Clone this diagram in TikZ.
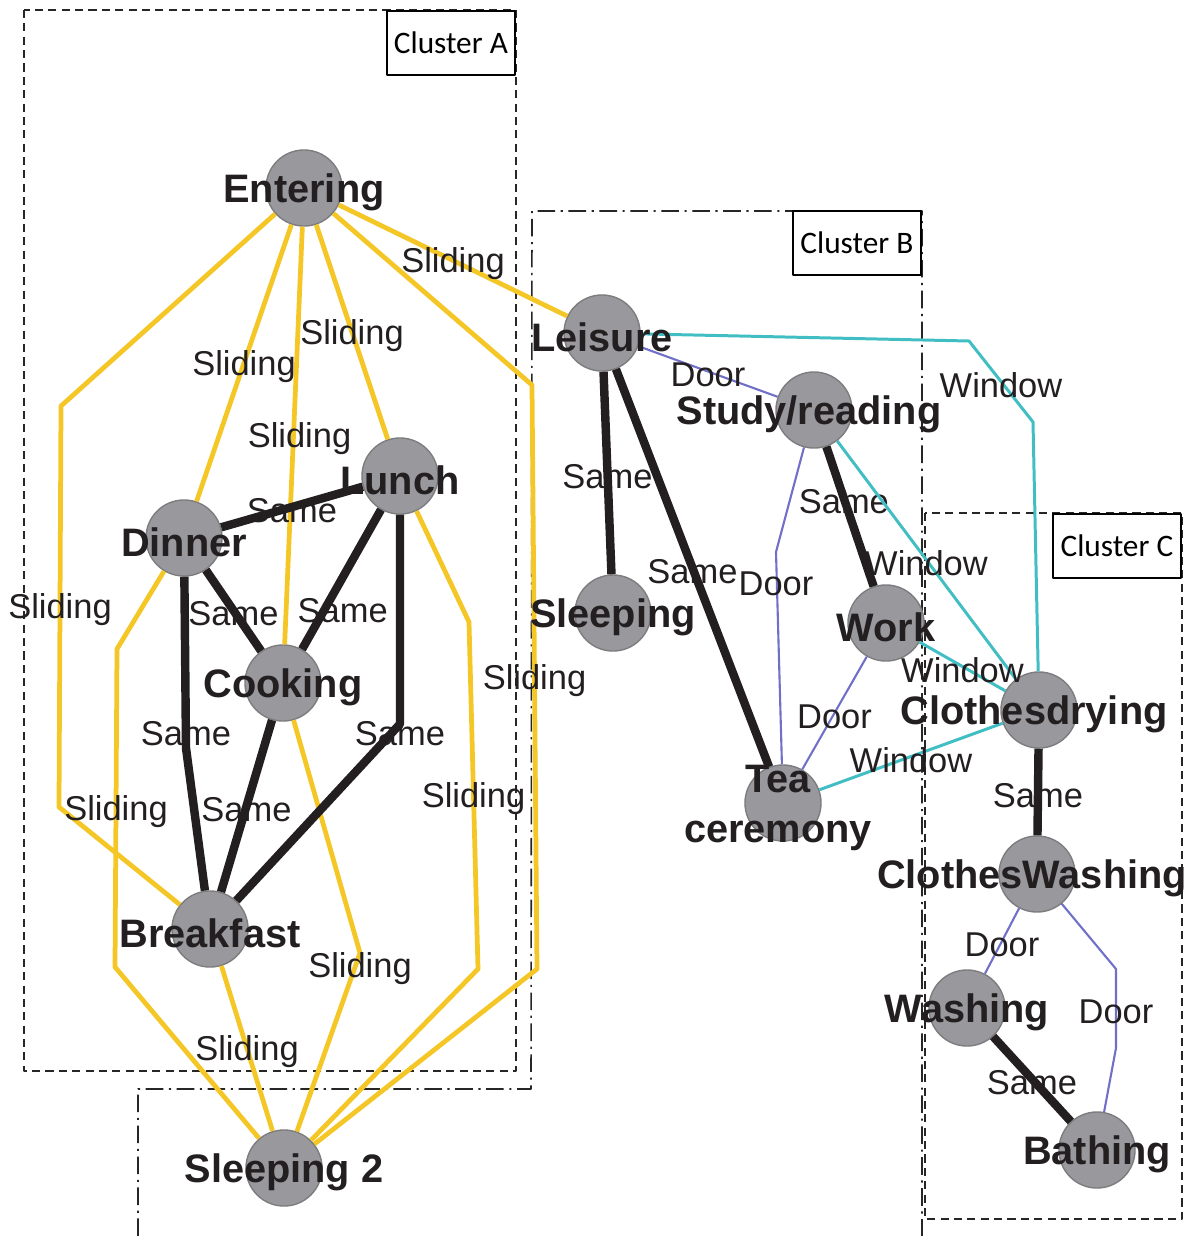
\documentclass[tikz,border=0pt]{standalone}
\usepackage{fontspec}
\setmainfont{Liberation Sans}
\newfontfamily\clusterfont{Carlito}
\usepackage{xcolor}
\usepackage{tikz}
\usetikzlibrary{arrows}
\usetikzlibrary{calc}
\usetikzlibrary{positioning}

\definecolor{ink}{RGB}{35,31,32}
\definecolor{slidecol}{RGB}{244,198,38}
\definecolor{doorcol}{RGB}{112,112,200}
\definecolor{windowcol}{RGB}{64,190,196}
\definecolor{roomfill}{RGB}{152,152,157}
\definecolor{roomline}{RGB}{125,125,128}

\begin{document}
\begin{tikzpicture}[x=0.01cm,y=-0.01cm,line join=round,
                    room/.style={circle,draw=roomline,fill=roomfill,line width=0.4pt,minimum size=0.76cm,inner sep=0pt},
                    room name/.style={font=\bfseries\fontsize{11.3}{14.2}\selectfont,text=ink,align=center,inner sep=0pt,yshift=-0.045cm},
                    link name/.style={font=\fontsize{9.8}{11}\selectfont,text=ink,inner sep=0pt,yshift=-0.035cm},
                    sliding/.style={draw=slidecol,line width=1.35pt},
                    samelink/.style={draw=ink,line width=2.4pt},
                    doorlink/.style={draw=doorcol,line width=0.6pt},
                    windowlink/.style={draw=windowcol,line width=0.85pt}]

    \tikzset{
        cluster frame/.style={draw=black!85,line width=0.45pt},
        cluster tag/.style={draw=black,fill=white,line width=0.6pt,anchor=north east,
            font=\clusterfont\fontsize{8.9}{10}\selectfont,
            minimum width=1.28cm,minimum height=0.64cm,inner sep=0pt}
    }

    \useasboundingbox (0,0) rectangle (1188,1236);

    % cluster outlines
    \draw[cluster frame,dash pattern=on 2.3pt off 1.5pt] (24,10) rectangle (516,1071);
    \draw[cluster frame,dash pattern=on 5pt off 1.6pt on 0.6pt off 1.6pt]
        (138,1236) -- (138,1089) -- (531,1089) -- (532,211) -- (922,211) -- (922,1236);
    \draw[cluster frame,dash pattern=on 2.3pt off 1.5pt] (925,513) rectangle (1182,1219);

    % rooms
    \node[room] (entering)  at (304,188)  {};
    \node[room] (lunch)     at (400,476)  {};
    \node[room] (dinner)    at (184,538)  {};
    \node[room] (cooking)   at (283,683)  {};
    \node[room] (breakfast) at (210,929)  {};
    \node[room] (sleeptwo)  at (284,1168) {};
    \node[room] (leisure)   at (602,333)  {};
    \node[room] (study)     at (814,410)  {};
    \node[room] (sleeping)  at (613,613)  {};
    \node[room] (work)      at (886,623)  {};
    \node[room] (tea)       at (783,803)  {};
    \node[room] (drying)    at (1039,710) {};
    \node[room] (clwash)    at (1037,874) {};
    \node[room] (washing)   at (967,1008) {};
    \node[room] (bathing)   at (1097,1150) {};

    % sliding doors
    \path[sliding,every node/.style={link name}]
        (entering)  edge node {Sliding} (leisure)
                    edge node {Sliding} (dinner)
                    edge node[xshift=0.06cm] {Sliding} (cooking)
                    edge node {Sliding} (lunch)
        (breakfast) edge node {Sliding} (sleeptwo);
    \draw[sliding] (entering) -- (61,406) -- (59,807) node[midway,link name] {Sliding} -- (breakfast);
    \draw[sliding] (dinner) -- (117,649) -- (115,967) node[midway,link name] {Sliding} -- (sleeptwo);
    \draw[sliding] (entering) -- (532,385) -- (537,969) node[midway,link name] {Sliding} -- (sleeptwo);
    \draw[sliding] (lunch) -- (469,622) -- (478,969) node[midway,link name] {Sliding} -- (sleeptwo);
    \draw[sliding] (cooking) -- (360,953) node[link name,yshift=-0.12cm] {Sliding} -- (sleeptwo);

    % same room
    \path[samelink,every node/.style={link name}]
        (dinner)   edge node {Same} (lunch)
                   edge node {Same} (cooking)
        (lunch)    edge node[pos=0.7,xshift=0.17cm] {Same} (cooking)
        (cooking)  edge node {Same} (breakfast)
        (leisure)  edge node {Same} (sleeping)
                   edge node {Same} (tea)
        (study)    edge node[pos=0.37] {Same} (work)
        (drying)   edge node {Same} (clwash)
        (washing)  edge node {Same} (bathing);
    \draw[samelink] (dinner) -- (186,748) node[link name,yshift=0.18cm] {Same} -- (breakfast);
    \draw[samelink] (lunch) -- (400,724) node[link name,yshift=-0.06cm] {Same} -- (breakfast);

    % doors
    \path[doorlink,every node/.style={link name}]
        (leisure) edge node {Door} (study)
        (work)    edge node {Door} (tea)
        (clwash)  edge node {Door} (washing);
    \draw[doorlink] (study) -- (776,552) node[link name,yshift=-0.28cm] {Door} -- (tea);
    \draw[doorlink] (clwash) -- (1116,969) -- (1116,1048) node[midway,link name] {Door} -- (bathing);

    % windows
    \path[windowlink,every node/.style={link name}]
        (study) edge node {Window} (drying)
        (work)  edge node {Window} (drying)
        (tea)   edge node {Window} (drying);
    \draw[windowlink] (leisure) -- (969,341) -- (1033,422) node[midway,link name] {Window} -- (drying);

    % room names on top
    \node[room name] (enteringname)  at (entering)  {Entering};
    \node[room name] (lunchname)     at (lunch)     {Lunch};
    \node[room name] (dinnername)    at (dinner)    {Dinner};
    \node[room name] (cookingname)   at (cooking)   {Cooking};
    \node[room name] (breakfastname) at (breakfast) {Breakfast};
    \node[room name] (sleeptwoname)  at (sleeptwo)  {Sleeping 2};
    \node[room name] (leisurename)   at (leisure)   {Leisure};
    \node[room name,xshift=-0.05cm] (studyname) at (study) {Study/reading};
    \node[room name] (sleepingname)  at (sleeping)  {Sleeping};
    \node[room name] (workname)      at (work)      {Work};
    \node[room name,xshift=-0.05cm] (teaname) at (tea) {Tea\\ceremony};
    \node[room name,xshift=-0.05cm] (dryingname) at (drying) {Clothesdrying};
    \node[room name,xshift=-0.05cm] (clwashname) at (clwash) {ClothesWashing};
    \node[room name] (washingname)   at (washing)   {Washing};
    \node[room name] (bathingname)   at (bathing)   {Bathing};

    % cluster tags
    \node[cluster tag] (tagA) at (516,10)  {Cluster A};
    \node[cluster tag] (tagB) at (922,210) {Cluster B};
    \node[cluster tag] (tagC) at (1182,513) {Cluster C};
\end{tikzpicture}
\end{document}
